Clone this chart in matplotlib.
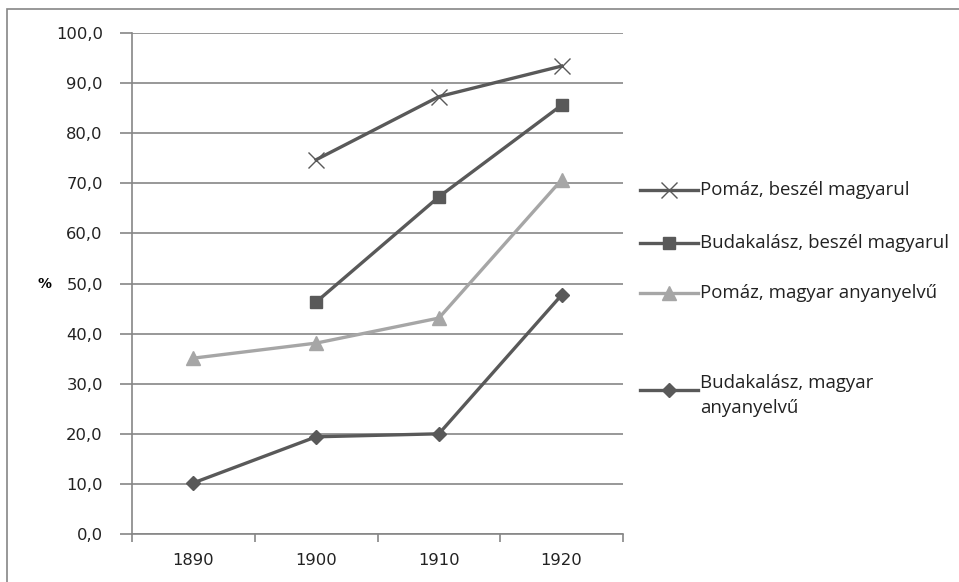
import matplotlib.pyplot as plt
from matplotlib.lines import Line2D
from matplotlib.patches import Rectangle

years = ["1890", "1900", "1910", "1920"]
pomaz_beszel = [None, 74.7, 87.3, 93.4]
budakalasz_beszel = [None, 46.3, 67.3, 85.6]
pomaz_anyanyelv = [35.1, 38.1, 43.1, 70.7]
budakalasz_anyanyelv = [10.2, 19.4, 20.0, 47.7]

labels = ["Pomáz, beszél magyarul", "Budakalász, beszél magyarul",
          "Pomáz, magyar anyanyelvű", "Budakalász, magyar\nanyanyelvű"]

DARK = "#595959"
LIGHT = "#a6a6a6"
GRID = "#868686"

styles = [
    dict(color=DARK, marker="x", markersize=11, markeredgewidth=1.0),
    dict(color=DARK, marker="s", markersize=9),
    dict(color=LIGHT, marker="^", markersize=10),
    dict(color=DARK, marker="D", markersize=7),
]
series = [pomaz_beszel, budakalasz_beszel, pomaz_anyanyelv, budakalasz_anyanyelv]

fig = plt.figure(figsize=(9.59, 5.82), dpi=100)
ax = fig.add_axes([132 / 959, 1 - 534 / 582, 491 / 959, 501 / 582])

xs = list(range(len(years)))
for vals, st in zip(series, styles):
    px = [x for x, v in zip(xs, vals) if v is not None]
    py = [v for v in vals if v is not None]
    ax.plot(px, py, linewidth=2.4, zorder=3, **st)

ax.set_xlim(-0.5, 3.5)
ax.set_ylim(0, 100)
ax.set_yticks(range(0, 101, 10))
ax.set_yticklabels([f"{v},0" for v in range(0, 101, 10)], fontsize=11.8)
ax.set_xticks(xs)
ax.set_xticklabels(years, fontsize=11.8)
ax.set_xticks([-0.5, 0.5, 1.5, 2.5, 3.5], minor=True)
ax.tick_params(axis="x", which="major", length=0, pad=14, colors="#222222")
ax.tick_params(axis="x", which="minor", length=6, color=GRID, width=1.2)
ax.tick_params(axis="y", length=9, color=GRID, width=1.2, pad=12, colors="#222222")
ax.tick_params(axis="y", color=GRID)
ax.yaxis.grid(True, color=GRID, linewidth=1.2)
ax.set_axisbelow(True)
for s in ["top", "right"]:
    ax.spines[s].set_visible(False)
for s in ["left", "bottom"]:
    ax.spines[s].set_color(GRID)
    ax.spines[s].set_linewidth(1.2)

ax.set_ylabel("%", rotation=0, fontsize=10, fontweight="bold", labelpad=8, va="center")

# legend drawn by hand to match the spacing
leg_y = [190, 243, 293, 390]
text_y = [190, 243, 293, 383]
for st, lab, hy, ty in zip(styles, labels, leg_y, text_y):
    fig.add_artist(Line2D([640 / 959, 669 / 959, 698 / 959], [1 - hy / 582] * 3,
                          linewidth=2.4, markevery=[1], **st))
    first, *rest = lab.split("\n")
    fig.text(700 / 959, 1 - ty / 582, first, fontsize=13.4, family="Open Sans",
             va="center", ha="left", color="#222222")
    for i, line in enumerate(rest):
        fig.text(700 / 959, 1 - (ty + 25 * (i + 1)) / 582, line, fontsize=13.4,
                 family="Open Sans", va="center", ha="left", color="#222222")

fig.add_artist(Rectangle((7 / 959, -0.1), 1.1, 1 - 9 / 582 + 0.1, transform=fig.transFigure,
                         fill=False, edgecolor=GRID, linewidth=1.2))

fig.savefig("out.png", dpi=100)
